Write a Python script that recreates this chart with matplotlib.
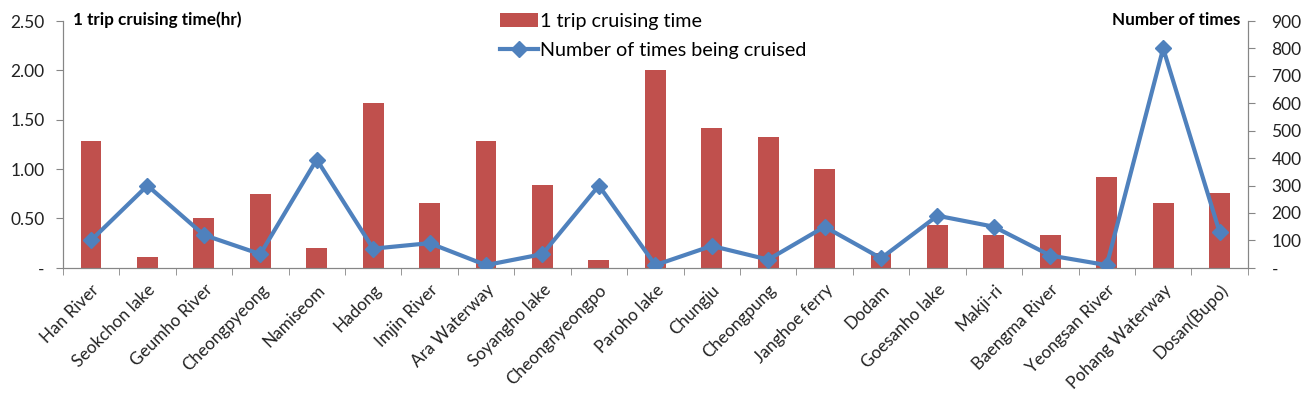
import numpy as np
import matplotlib
matplotlib.use("Agg")
import matplotlib.pyplot as plt
from matplotlib.ticker import FixedLocator, FuncFormatter

plt.rcParams['font.family'] = ['Lato', 'DejaVu Sans']

routes = ["Han River", "Seokchon lake", "Geumho River", "Cheongpyeong", "Namiseom",
          "Hadong", "Imjin River", "Ara Waterway", "Soyangho lake", "Cheongnyeongpo",
          "Paroho lake", "Chungju", "Cheongpung", "Janghoe ferry", "Dodam",
          "Goesanho lake", "Makji-ri", "Baengma River", "Yeongsan River",
          "Pohang Waterway", "Dosan(Bupo)"]
trip_hours = [1.28, 0.11, 0.50, 0.75, 0.20, 1.67, 0.66, 1.28, 0.84, 0.08, 2.00,
              1.42, 1.33, 1.00, 0.15, 0.43, 0.33, 0.33, 0.92, 0.66, 0.76]
times_cruised = [100, 300, 120, 50, 395, 70, 90, 10, 50, 300, 10,
                 80, 30, 150, 35, 190, 150, 45, 10, 800, 130]

bar_color = "#C0504D"
line_color = "#4F81BD"
axis_gray = "#868686"

fig = plt.figure(figsize=(13.08, 4.04), dpi=100)
ax = fig.add_axes([0.048, 0.337, 0.906, 0.611])
ax2 = ax.twinx()

x = np.arange(len(routes))
bars = ax.bar(x, trip_hours, width=0.37, color=bar_color, zorder=1,
              label="1 trip cruising time")
line, = ax2.plot(x, times_cruised, color=line_color, lw=3, marker="D", ms=8,
                 label="Number of times being cruised", zorder=3)

ax.set_xlim(-0.5, len(routes) - 0.5)
ax.set_ylim(0, 2.5)
ax2.set_ylim(0, 900)

dash_fmt = lambda fmt: FuncFormatter(lambda v, p: "-" if v == 0 else fmt.format(v))
ax.yaxis.set_major_locator(FixedLocator(np.arange(0, 2.51, 0.5)))
ax.yaxis.set_major_formatter(dash_fmt("{:.2f}"))
ax2.yaxis.set_major_locator(FixedLocator(np.arange(0, 901, 100)))
ax2.yaxis.set_major_formatter(dash_fmt("{:.0f}"))

ax.set_xticks(x)
ax.set_xticklabels(routes, rotation=45, ha="right", rotation_mode="anchor",
                   fontsize=12.3, color="#222222")
ax.xaxis.set_minor_locator(FixedLocator(np.arange(-0.5, len(routes), 1)))
ax.tick_params(axis="x", which="major", length=0, pad=10)
ax.tick_params(axis="x", which="minor", length=5, color=axis_gray, direction="out")
ax.tick_params(axis="y", length=5, color=axis_gray, labelsize=12.5, labelcolor="#222222",
               pad=8)
ax2.tick_params(axis="y", length=5, color=axis_gray, labelsize=12.5, labelcolor="#222222",
                pad=12)

for a in (ax, ax2):
    a.spines["top"].set_visible(False)
    for s in ("left", "right", "bottom"):
        a.spines[s].set_color(axis_gray)

ax.set_zorder(ax2.get_zorder() - 1)
ax2.patch.set_visible(False)

fig.text(0.056, 0.95, "1 trip cruising time(hr)", fontsize=12.3, fontweight="bold",
         ha="left", va="center")
fig.text(0.948, 0.95, "Number of times", fontsize=12.3, fontweight="bold",
         ha="right", va="center")

fig.legend([bars, line], ["1 trip cruising time", "Number of times being cruised"],
           loc="upper left", bbox_to_anchor=(0.369, 1.012), frameon=False,
           fontsize=14.2, handlelength=1.9, handletextpad=0.1, labelspacing=0.6)

fig.savefig("out.png", dpi=100)
